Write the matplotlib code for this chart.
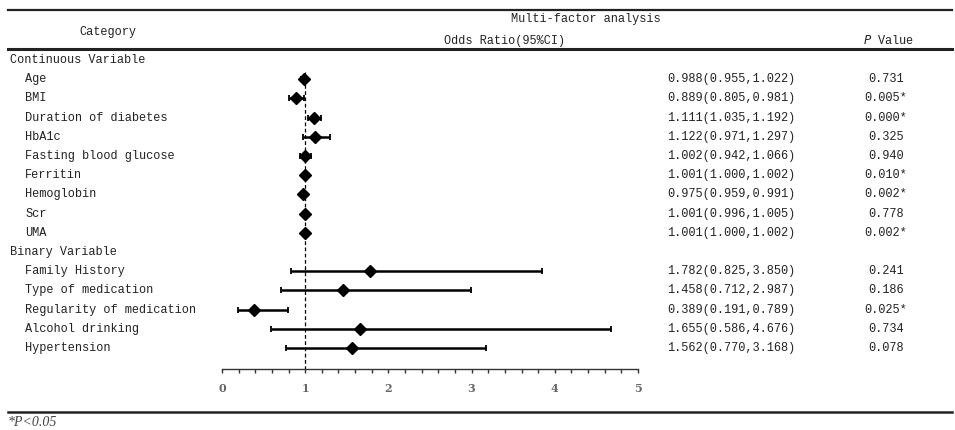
import matplotlib.pyplot as plt
import matplotlib.transforms as mtransforms

# Data
rows = [
    ("Continuous Variable", None, None, None, None, None),
    ("Age", 0.988, 0.955, 1.022, "0.988(0.955,1.022)", "0.731"),
    ("BMI", 0.889, 0.805, 0.981, "0.889(0.805,0.981)", "0.005*"),
    ("Duration of diabetes", 1.111, 1.035, 1.192, "1.111(1.035,1.192)", "0.000*"),
    ("HbA1c", 1.122, 0.971, 1.297, "1.122(0.971,1.297)", "0.325"),
    ("Fasting blood glucose", 1.002, 0.942, 1.066, "1.002(0.942,1.066)", "0.940"),
    ("Ferritin", 1.001, 1.000, 1.002, "1.001(1.000,1.002)", "0.010*"),
    ("Hemoglobin", 0.975, 0.959, 0.991, "0.975(0.959,0.991)", "0.002*"),
    ("Scr", 1.001, 0.996, 1.005, "1.001(0.996,1.005)", "0.778"),
    ("UMA", 1.001, 1.000, 1.002, "1.001(1.000,1.002)", "0.002*"),
    ("Binary Variable", None, None, None, None, None),
    ("Family History", 1.782, 0.825, 3.850, "1.782(0.825,3.850)", "0.241"),
    ("Type of medication", 1.458, 0.712, 2.987, "1.458(0.712,2.987)", "0.186"),
    ("Regularity of medication", 0.389, 0.191, 0.789, "0.389(0.191,0.789)", "0.025*"),
    ("Alcohol drinking", 1.655, 0.586, 4.676, "1.655(0.586,4.676)", "0.734"),
    ("Hypertension", 1.562, 0.770, 3.168, "1.562(0.770,3.168)", "0.078"),
]
x_ticks = [0, 1, 2, 3, 4, 5]

W, H = 955, 430
fig = plt.figure(figsize=(9.55, 4.3), dpi=100)

def fx(px):
    return px / W

def fy(py):
    return 1 - py / H

mono = "Liberation Mono"
fs = 8.6
col = "#222222"

# forest axes: x=0 at px 222, x=5 at px 638
ax = fig.add_axes([fx(222), fy(369), fx(638) - fx(222), fy(50.4) - fy(369)])
ax.set_xlim(0, 5)
ax.set_ylim(16.1, -0.5)
for s in ["top", "right", "left"]:
    ax.spines[s].set_visible(False)
ax.spines["bottom"].set_linewidth(1.0)
ax.spines["bottom"].set_color("#333333")
ax.set_yticks([])
ax.set_xticks(x_ticks)
ax.set_xticks([i * 0.2 for i in range(26)], minor=True)
ax.tick_params(axis="x", which="both", direction="out", length=3, width=1, color="#333333",
               labelsize=8, labelcolor="#666666", pad=7)
for lab in ax.get_xticklabels():
    lab.set_fontfamily("DejaVu Serif")
    lab.set_fontweight("bold")
ax.patch.set_alpha(0)

ax.vlines(1, 0.6, 16.1, colors="black", linestyles=(0, (3, 2)), linewidth=0.9)

tr = mtransforms.blended_transform_factory(fig.transFigure, ax.transData)
for i, (name, orv, lo, hi, ortxt, ptxt) in enumerate(rows):
    if orv is None:
        ax.text(fx(10), i, name, transform=tr, fontsize=fs, family=mono, color=col,
                ha="left", va="center")
        continue
    ax.text(fx(25), i, name, transform=tr, fontsize=fs, family=mono, color=col,
            ha="left", va="center")
    ax.errorbar(orv, i, xerr=[[orv - lo], [hi - orv]], fmt="D", color="black",
                markersize=6.5, elinewidth=1.8, capsize=2.5, capthick=1.3)
    ax.text(fx(667), i, ortxt, transform=tr, fontsize=fs, family=mono, color=col,
            ha="left", va="center")
    ax.text(fx(886), i, ptxt, transform=tr, fontsize=fs, family=mono, color=col,
            ha="center", va="center")

# headers
fig.text(fx(108), fy(32), "Category", fontsize=fs, family=mono, color=col, ha="center", va="center")
fig.text(fx(586), fy(19), "Multi-factor analysis", fontsize=fs, family=mono, color=col,
         ha="center", va="center")
fig.text(fx(505), fy(41), "Odds Ratio(95%CI)", fontsize=fs, family=mono, color=col,
         ha="center", va="center")
fig.text(fx(889), fy(41), r"$\it{P}$ Value", fontsize=fs, family=mono, color=col,
         ha="center", va="center")
fig.text(fx(8), fy(423), "*P<0.05", fontsize=10, family="Liberation Serif", style="italic",
         color="#444444", ha="left", va="center")

# table rules
for py, lw in [(10, 1.6), (48.5, 2.2), (412, 1.8)]:
    fig.add_artist(plt.Line2D([fx(8), fx(952)], [fy(py), fy(py)], color="#222222", linewidth=lw))

fig.savefig("out.png", dpi=100)
